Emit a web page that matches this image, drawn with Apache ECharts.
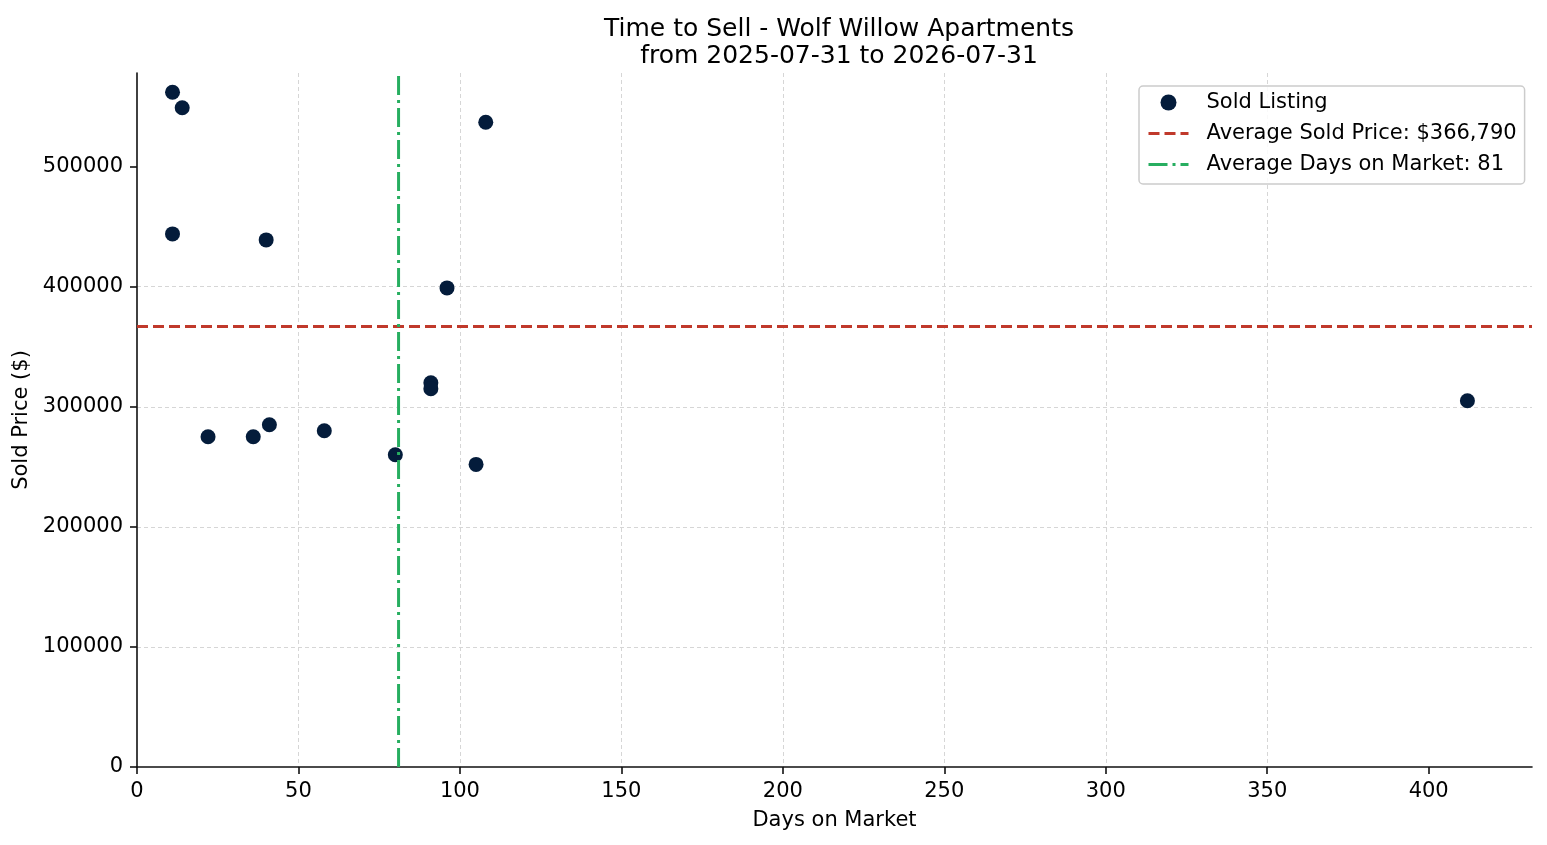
<!DOCTYPE html>
<html>
<head>
<meta charset="utf-8">
<title>Time to Sell - Wolf Willow Apartments</title>
<script src="https://cdn.jsdelivr.net/npm/echarts@6/dist/echarts.min.js"></script>
<style>
    html, body { margin: 0; padding: 0; background: #fff; }
    #chart { width: 1547px; height: 845px; }
</style>
</head>
<body>
<div id="chart"></div>
<script>
// sold listings
const daysOnMarket = [11, 14, 108, 11, 40, 96, 91, 91, 412, 22, 36, 41, 58, 80, 105];
const soldPrice = [562000, 549000, 537000, 444000, 439000, 399000, 320000, 315000, 305000,
    275000, 275000, 285000, 280000, 260000, 252000];

const avgPrice = 366790;
const avgDays = 81;

const xRange = [0, 432];
const yRange = [0, 578000];
const xTicks = [0, 50, 100, 150, 200, 250, 300, 350, 400];
const yTicks = [0, 100000, 200000, 300000, 400000, 500000];

const FONT = 'DejaVu Sans';
const RED = '#c0392b';
const GREEN = '#27ae60';
const DASHED = [11, 5];
const DASHDOT = [19, 5, 3, 5];

const points = daysOnMarket.map((d, i) => [d, soldPrice[i]]);
const priceName = 'Average Sold Price: $' + avgPrice.toLocaleString('en-US');
const daysName = 'Average Days on Market: ' + avgDays;

const axisCommon = {
    axisLine: { show: true, lineStyle: { color: '#111', width: 1.6 } },
    axisTick: { show: true, length: 7, lineStyle: { color: '#111', width: 1.6 } },
    splitLine: {
        show: true,
        showMinLine: false,
        showMaxLine: false,
        lineStyle: { color: '#d6d6d6', width: 1, type: [4, 3] }
    },
    nameTextStyle: { fontFamily: FONT, fontSize: 21, color: '#000' }
};

const labelStyle = {
    margin: 14,
    fontFamily: FONT,
    fontSize: 21,
    color: '#000'
};

// line legend items: hide the dot ECharts puts in the middle
const noDot = { color: 'rgba(0,0,0,0)', opacity: 0, borderWidth: 0 };

const chart = echarts.init(document.getElementById('chart'));

chart.setOption({
    animation: false,
    backgroundColor: '#fff',
    title: {
        text: 'Time to Sell - Wolf Willow Apartments\nfrom 2025-07-31 to 2026-07-31',
        left: 834,
        textAlign: 'center',
        top: 11,
        textStyle: {
            fontFamily: FONT,
            fontSize: 25,
            fontWeight: 'normal',
            color: '#000',
            lineHeight: 27
        }
    },
    grid: {
        left: 137, right: 15, top: 73, bottom: 78,
        containLabel: false,
        outerBoundsMode: 'none'
    },
    legend: {
        orient: 'vertical',
        left: 1139,
        top: 86,
        padding: [6, 8, 9, 8],
        itemWidth: 40,
        itemHeight: 16,
        itemGap: 10,
        backgroundColor: 'rgba(255,255,255,0.85)',
        borderColor: '#cccccc',
        borderWidth: 1.5,
        borderRadius: 4,
        textStyle: {
            fontFamily: FONT,
            fontSize: 21,
            color: '#000',
            lineHeight: 20,
            padding: [0, 0, 0, 13]
        },
        data: [
            { name: 'Sold Listing', icon: 'circle' },
            { name: priceName, itemStyle: noDot, lineStyle: { color: RED, width: 3, type: DASHED } },
            { name: daysName, itemStyle: noDot, lineStyle: { color: GREEN, width: 3, type: DASHDOT } }
        ]
    },
    xAxis: Object.assign({}, axisCommon, {
        type: 'value',
        min: xRange[0],
        max: xRange[1],
        interval: 50,
        name: 'Days on Market',
        nameLocation: 'middle',
        nameGap: 43,
        axisTick: Object.assign({}, axisCommon.axisTick, { customValues: xTicks }),
        axisLabel: Object.assign({ customValues: xTicks }, labelStyle)
    }),
    yAxis: Object.assign({}, axisCommon, {
        type: 'value',
        min: yRange[0],
        max: yRange[1],
        interval: 100000,
        name: 'Sold Price ($)',
        nameLocation: 'middle',
        nameGap: 103,
        axisTick: Object.assign({}, axisCommon.axisTick, { customValues: yTicks }),
        axisLabel: Object.assign({ customValues: yTicks, formatter: v => String(v) }, labelStyle)
    }),
    series: [
        {
            name: 'Sold Listing',
            type: 'scatter',
            data: points,
            symbol: 'circle',
            symbolSize: 15,
            itemStyle: { color: '#041c3b', opacity: 1 },
            z: 2
        },
        {
            name: priceName,
            type: 'line',
            data: [[xRange[0], avgPrice], [xRange[1], avgPrice]],
            symbol: 'none',
            silent: true,
            lineStyle: { color: RED, width: 3, type: DASHED },
            itemStyle: { color: RED },
            z: 3
        },
        {
            name: daysName,
            type: 'line',
            data: [[avgDays, yRange[0]], [avgDays, yRange[1]]],
            symbol: 'none',
            silent: true,
            lineStyle: { color: GREEN, width: 3, type: DASHDOT },
            itemStyle: { color: GREEN },
            z: 3
        }
    ]
});
</script>
</body>
</html>
